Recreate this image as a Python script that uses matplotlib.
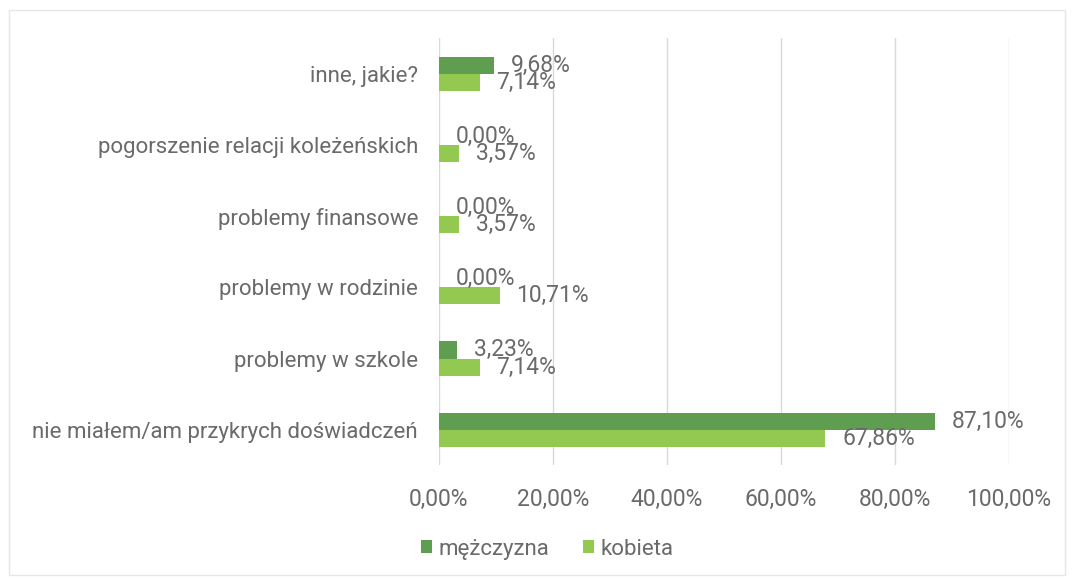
import matplotlib.pyplot as plt
import numpy as np
from matplotlib.patches import Rectangle

categories = ['nie miałem/am przykrych doświadczeń', 'problemy w szkole',
              'problemy w rodzinie', 'problemy finansowe',
              'pogorszenie relacji koleżeńskich', 'inne, jakie?']
mezczyzna = [87.10, 3.23, 0.00, 0.00, 0.00, 9.68]
kobieta = [67.86, 7.14, 10.71, 3.57, 3.57, 7.14]
x_ticks = [0, 20, 40, 60, 80, 100]

dark = '#5f9e50'
light = '#93c851'
text_col = '#6a6a6a'

def pl(v):
    return f'{v:.2f}'.replace('.', ',') + '%'

plt.rcParams['font.family'] = ['Roboto', 'DejaVu Sans']

fig = plt.figure(figsize=(10.73, 5.78), dpi=100)
ax = fig.add_axes([0.409, 0.195, 0.531, 0.739])

y = np.arange(len(categories))
h = 0.24
b1 = ax.barh(y + h / 2, mezczyzna, height=h, color=dark, label='mężczyzna', zorder=3)
b2 = ax.barh(y - h / 2, kobieta, height=h, color=light, label='kobieta', zorder=3)

# value labels to the right of each bar
for bars, vals in ((b1, mezczyzna), (b2, kobieta)):
    for bar, v in zip(bars, vals):
        ax.annotate(pl(v), (v, bar.get_y() + bar.get_height() / 2),
                    xytext=(12, 0), textcoords='offset points',
                    ha='left', va='center', fontsize=16.5, color=text_col, zorder=4)

ax.set_xlim(0, 100)
ax.set_ylim(-0.5, len(categories) - 0.5)
ax.set_xticks(x_ticks)
ax.set_xticklabels([pl(t) for t in x_ticks], fontsize=16.5)
ax.set_yticks(y)
ax.set_yticklabels(categories, fontsize=16)
ax.tick_params(axis='both', length=0, colors=text_col)
ax.tick_params(axis='y', pad=15)
ax.tick_params(axis='x', pad=16)
ax.xaxis.grid(True, color='#d9d9d9', linewidth=1, zorder=0)
for s in ax.spines.values():
    s.set_visible(False)

fig.legend(handles=[b1, b2], loc='center', bbox_to_anchor=(0.51, 0.05), ncol=2,
           frameon=False, fontsize=16, labelcolor=text_col, handlelength=0.5,
           handleheight=0.5, handletextpad=0.3, columnspacing=1.5)

# chart area border
fig.patches.append(Rectangle((0.008, 0.005), 0.985, 0.978, transform=fig.transFigure,
                             fill=False, edgecolor='#e6e6e6', linewidth=1))

fig.savefig('out.png', dpi=100)
